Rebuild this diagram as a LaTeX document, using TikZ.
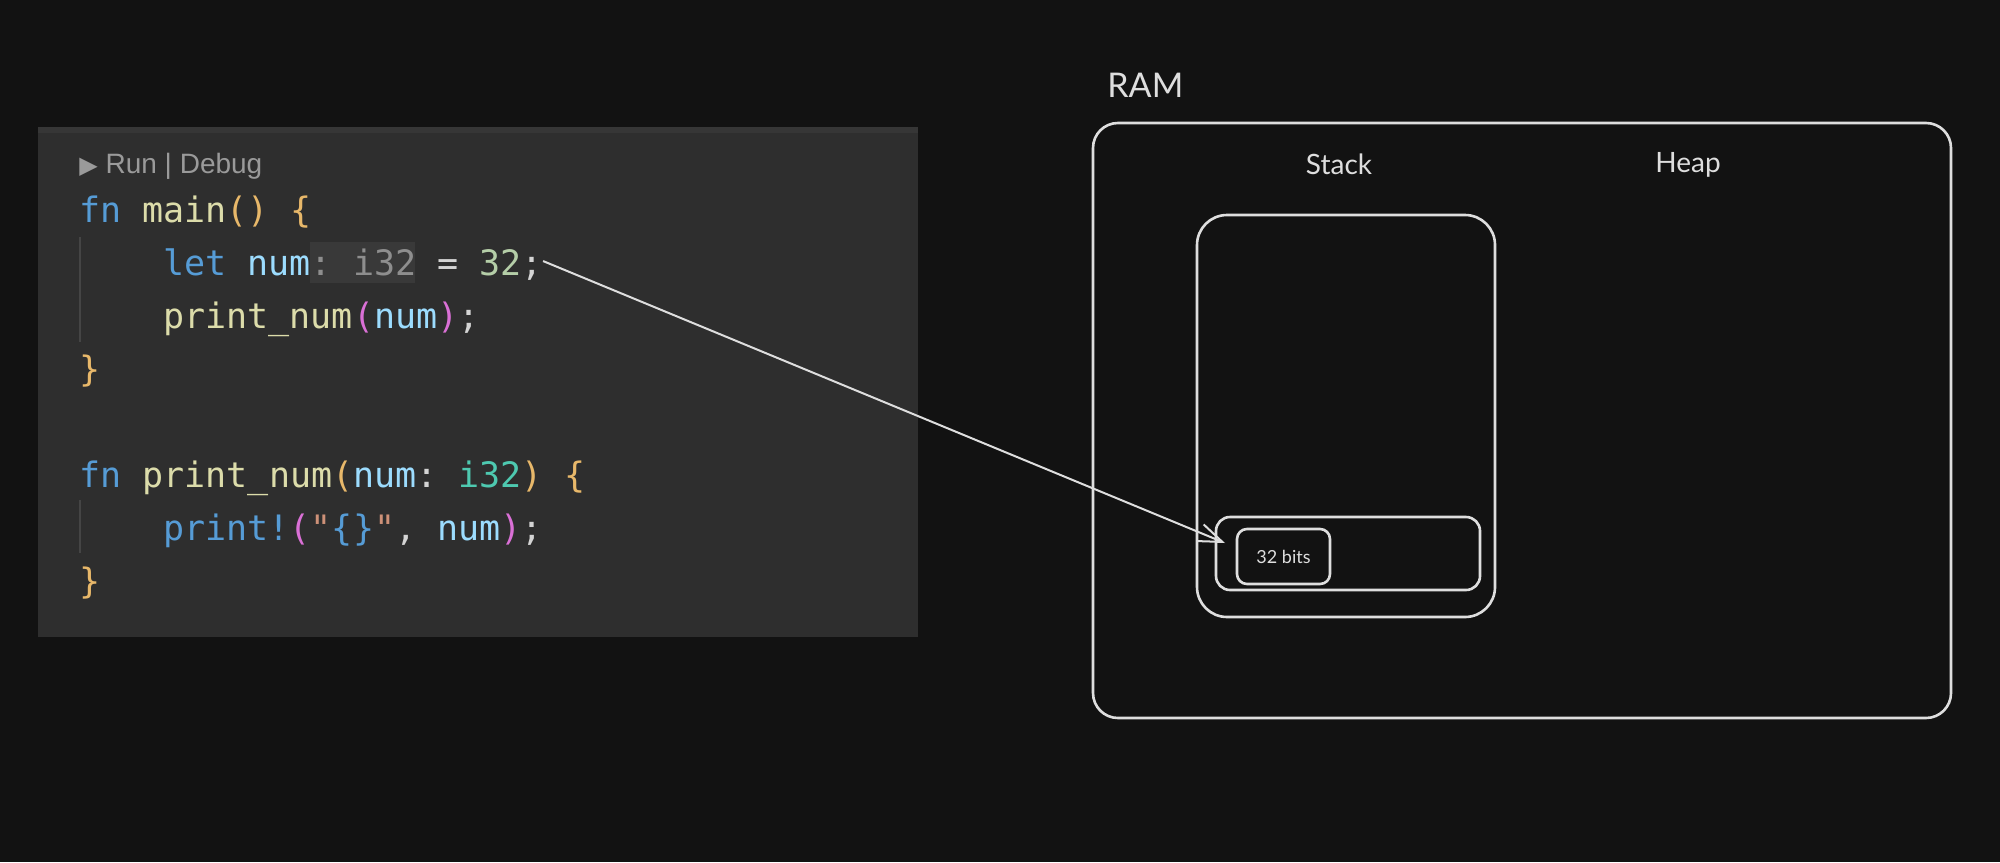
\documentclass[tikz,border=0pt]{standalone}
\usepackage{fontspec}
\setmainfont{Lato}
\newfontfamily\codefont{DejaVu Sans Mono}
\newfontfamily\uifont{Liberation Sans}
\newfontfamily\symfont{DejaVu Sans}
\usetikzlibrary{arrows.meta}

\definecolor{bgdark}{HTML}{121212}
\definecolor{panel}{HTML}{2E2E2E}
\definecolor{paneltop}{HTML}{363636}
\definecolor{guide}{HTML}{454545}
\definecolor{hintbg}{HTML}{393939}
\definecolor{plain}{HTML}{D4D4D4}
\definecolor{kwblue}{HTML}{569CD6}
\definecolor{fnyellow}{HTML}{DCDCAA}
\definecolor{varblue}{HTML}{9CDCFE}
\definecolor{gold}{HTML}{E8B86A}
\definecolor{orchid}{HTML}{DA70D6}
\definecolor{hintgray}{HTML}{8E8E8E}
\definecolor{numgreen}{HTML}{B5CEA8}
\definecolor{typeteal}{HTML}{4EC9B0}
\definecolor{strorange}{HTML}{CE9178}
\definecolor{rungray}{HTML}{9A9A9A}
\definecolor{sketch}{HTML}{DEDEDE}

\newcommand{\ckw}[1]{\textcolor{kwblue}{#1}}
\newcommand{\cfn}[1]{\textcolor{fnyellow}{#1}}
\newcommand{\cvar}[1]{\textcolor{varblue}{#1}}
\newcommand{\cgold}[1]{\textcolor{gold}{#1}}
\newcommand{\cpink}[1]{\textcolor{orchid}{#1}}
\newcommand{\chint}[1]{\textcolor{hintgray}{#1}}
\newcommand{\cnum}[1]{\textcolor{numgreen}{#1}}
\newcommand{\ctype}[1]{\textcolor{typeteal}{#1}}
\newcommand{\cstr}[1]{\textcolor{strorange}{#1}}

\tikzstyle{code} = [inner sep=0pt, anchor=base west, text=plain, font=\codefont\fontsize{17.5pt}{21pt}\selectfont\frenchspacing]
\tikzstyle{lens} = [inner sep=0pt, anchor=base west, text=rungray, font=\uifont\fontsize{14pt}{17pt}\selectfont]
\tikzstyle{membox} = [draw=sketch, line width=1.3pt, inner sep=0pt]
\tikzstyle{sketchlabel} = [inner sep=0pt, text=sketch]
\tikzstyle{arrow} = [draw=sketch, line width=1pt, -{Straight Barb[length=12pt,width=9pt]}]

\begin{document}
\begin{tikzpicture}[x=0.5pt, y=-0.5pt]

	% background and editor panel
	\fill[bgdark] (0,0) rectangle (2000,862);
	\fill[panel] (38,127) rectangle (918,637);
	\fill[paneltop] (38,127) rectangle (918,133);
	\fill[hintbg] (310,242) rectangle (415,283);
	\draw[guide, line width=1pt] (79.5,237) -- (79.5,342);
	\draw[guide, line width=1pt] (79.5,500) -- (79.5,553);

	\node[lens] (lens) at (79,173) {{\symfont\fontsize{12pt}{14pt}\selectfont ▶} Run | Debug};
	\node[code] (mainline) at (79,222) {\ckw{fn} \cfn{main}\cgold{()} \cgold{\{}};
	\node[code] (letline) at (163,275) {\ckw{let} \cvar{num}\chint{: i32} = \cnum{32};};
	\node[code] (callline) at (163,328) {\cfn{print\_num}\cpink{(}\cvar{num}\cpink{)};};
	\node[code] (mainend) at (79,381) {\cgold{\}}};
	\node[code] (printfn) at (79,487) {\ckw{fn} \cfn{print\_num}\cgold{(}\cvar{num}: \ctype{i32}\cgold{)} \cgold{\{}};
	\node[code] (printline) at (163,540) {\ckw{print!}\cpink{(}\cstr{"}\ckw{\{\}}\cstr{"}, \cvar{num}\cpink{)};};
	\node[code] (printend) at (79,593) {\cgold{\}}};

	% memory sketch
	\node[membox, rounded corners=12.5pt, minimum width=429pt, minimum height=297.5pt] (ram) at (1522,420.5) {};
	\node[membox, rounded corners=15pt, minimum width=149pt, minimum height=201pt] (stack) at (1346,416) {};
	\node[membox, rounded corners=7pt, minimum width=132pt, minimum height=36.5pt] (frame) at (1348,553.5) {};
	\node[membox, rounded corners=5pt, minimum width=46.5pt, minimum height=27.5pt, text=sketch, font=\fontsize{9pt}{11pt}\selectfont] (bits) at (1283.5,556.5) {32 bits};

	\node[sketchlabel, anchor=base west, font=\fontsize{17pt}{20pt}\selectfont] (ramlabel) at (1107,97) {RAM};
	\node[sketchlabel, anchor=base, font=\fontsize{14pt}{17pt}\selectfont] (stacklabel) at (1339,174) {Stack};
	\node[sketchlabel, anchor=base, font=\fontsize{14pt}{17pt}\selectfont] (heaplabel) at (1688,172) {Heap};

	\coordinate (tip) at (1225,543);
	\draw[arrow] ([yshift=1.5pt]letline.east) -- (tip);

\end{tikzpicture}
\end{document}
